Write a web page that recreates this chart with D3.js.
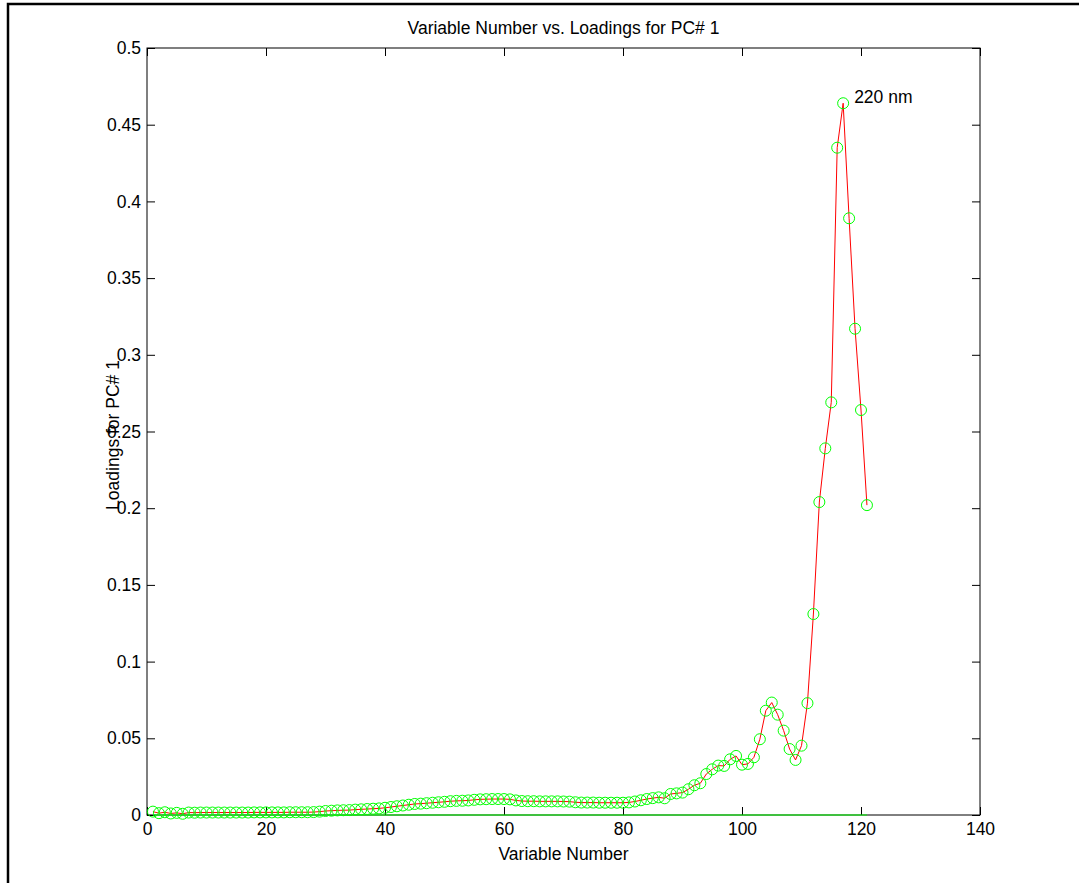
<!DOCTYPE html>
<html>
<head>
<meta charset="UTF-8" />
<title>Variable Number vs. Loadings for PC# 1</title>
<script type="text/javascript" src="https://cdn.jsdelivr.net/npm/d3@7/dist/d3.min.js"></script>
<style>
	body { margin: 0; background: #fff; }
	svg { display: block; }
	text { font-family: Arial, "Liberation Sans", sans-serif; fill: #000; }
</style>
</head>
<body>

	<div id="div1"><svg></svg></div>

	<script type="text/javascript">
		// loadings for PC# 1, variables 1..121
		var loadings = [
			0.0022, 0.0012, 0.0018, 0.0010, 0.0014, 0.0008, 0.0016, 0.0015, 0.0016, 0.0016,
			0.0016, 0.0016, 0.0016, 0.0016, 0.0016, 0.0016, 0.0016, 0.0017, 0.0017, 0.0017,
			0.0017, 0.0017, 0.0017, 0.0018, 0.0018, 0.0018, 0.0018, 0.0019, 0.0022, 0.0026,
			0.0028, 0.0030, 0.0031, 0.0032, 0.0035, 0.0037, 0.0039, 0.0041, 0.0043, 0.0047,
			0.0052, 0.0057, 0.0062, 0.0067, 0.0072, 0.0074, 0.0077, 0.0080, 0.0083, 0.0086,
			0.0090, 0.0092, 0.0093, 0.0095, 0.0099, 0.0102, 0.0103, 0.0104, 0.0104, 0.0104,
			0.0102, 0.0095, 0.0091, 0.0090, 0.0090, 0.0089, 0.0089, 0.0089, 0.0089, 0.0088,
			0.0087, 0.0083, 0.0081, 0.0081, 0.0081, 0.0080, 0.0080, 0.0080, 0.0080, 0.0080,
			0.0082, 0.0088, 0.0096, 0.0104, 0.0110, 0.0115, 0.0109, 0.0137, 0.0141, 0.0146,
			0.0168, 0.0194, 0.0207, 0.0267, 0.0298, 0.0322, 0.0320, 0.0363, 0.0385, 0.0328,
			0.0333, 0.0376, 0.0494, 0.0680, 0.0733, 0.0654, 0.0550, 0.0430, 0.0359, 0.0452,
			0.0729, 0.131, 0.204, 0.239, 0.269, 0.435, 0.464, 0.389, 0.317, 0.264,
			0.202
		];
		var variables = loadings.map(function(d, i){ return i + 1; });
		var xTicks = [0, 20, 40, 60, 80, 100, 120, 140];
		var yTicks = [0, 0.05, 0.1, 0.15, 0.2, 0.25, 0.3, 0.35, 0.4, 0.45, 0.5];
		var yTickLabels = ["0", "0.05", "0.1", "0.15", "0.2", "0.25", "0.3", "0.35", "0.4", "0.45", "0.5"];
		var peakIndex = 116, peakLabel = "220 nm";

		var w = 1079, h = 883, fs = "17.5px";
		var axLeft = 147, axRight = 980, axTop = 48, axBottom = 815, tick = 8;

		var svg = d3.select("#div1 svg").attr("width", w).attr("height", h);

		// figure frame
		svg.append("rect").attr("x", 8).attr("y", 4).attr("width", w + 20).attr("height", h + 20)
			.attr("fill", "none").attr("stroke", "#000").attr("stroke-width", 2.5);

		var x = d3.scaleLinear().domain([0, 140]).range([axLeft, axRight]);
		var y = d3.scaleLinear().domain([0, 0.5]).range([axBottom, axTop]);

		// ticks on all four sides, pointing inwards (matlab style)
		svg.append("g").attr("transform", "translate(0," + axBottom + ")")
			.call(d3.axisBottom(x).tickValues(xTicks).tickSize(-tick).tickPadding(8).tickFormat(d3.format("d")))
			.call(function(g){ g.select(".domain").remove(); });
		svg.append("g").attr("transform", "translate(0," + axTop + ")")
			.call(d3.axisTop(x).tickValues(xTicks).tickSize(-tick).tickFormat(""))
			.call(function(g){ g.select(".domain").remove(); });
		svg.append("g").attr("transform", "translate(" + axLeft + ",0)")
			.call(d3.axisLeft(y).tickValues(yTicks).tickSize(-tick).tickPadding(6)
				.tickFormat(function(d, i){ return yTickLabels[i]; }))
			.call(function(g){ g.select(".domain").remove(); });
		svg.append("g").attr("transform", "translate(" + axRight + ",0)")
			.call(d3.axisRight(y).tickValues(yTicks).tickSize(-tick).tickFormat(""))
			.call(function(g){ g.select(".domain").remove(); });

		svg.selectAll(".tick line").attr("stroke", "#000");
		svg.selectAll(".tick text").style("font-size", fs)
			.style("font-family", "Arial, 'Liberation Sans', sans-serif").attr("fill", "#000");

		svg.append("rect").attr("x", axLeft).attr("y", axTop)
			.attr("width", axRight - axLeft).attr("height", axBottom - axTop)
			.attr("fill", "none").attr("stroke", "#000").attr("stroke-width", 1);

		// zero line in green
		svg.append("line").attr("x1", x(1)).attr("x2", x(121)).attr("y1", y(0)).attr("y2", y(0))
			.attr("stroke", "#00ff00").attr("stroke-width", 1.2);

		var line = d3.line()
			.x(function(d, i){ return x(variables[i]); })
			.y(function(d){ return y(d); });

		svg.append("path").datum(loadings).attr("d", line)
			.attr("fill", "none").attr("stroke", "#ff0000").attr("stroke-width", 1);

		svg.append("g").selectAll("circle").data(loadings).enter()
			.append("circle")
			.attr("cx", function(d, i){ return x(variables[i]); })
			.attr("cy", function(d){ return y(d); })
			.attr("r", 5.5)
			.attr("fill", "none").attr("stroke", "#00ff00").attr("stroke-width", 1);

		svg.append("text").attr("x", x(variables[peakIndex]) + 11).attr("y", y(loadings[peakIndex]) - 0.5)
			.style("font-size", fs).text(peakLabel);

		svg.append("text").attr("x", (axLeft + axRight) / 2).attr("y", 34).attr("text-anchor", "middle")
			.style("font-size", fs).text("Variable Number vs. Loadings for PC# 1");

		svg.append("text").attr("x", (axLeft + axRight) / 2).attr("y", 860).attr("text-anchor", "middle")
			.style("font-size", fs).text("Variable Number");

		svg.append("text").attr("transform", "translate(119,435) rotate(-90)").attr("text-anchor", "middle")
			.style("font-size", fs).text("Loadings for PC# 1");
	</script>

</body>
</html>
